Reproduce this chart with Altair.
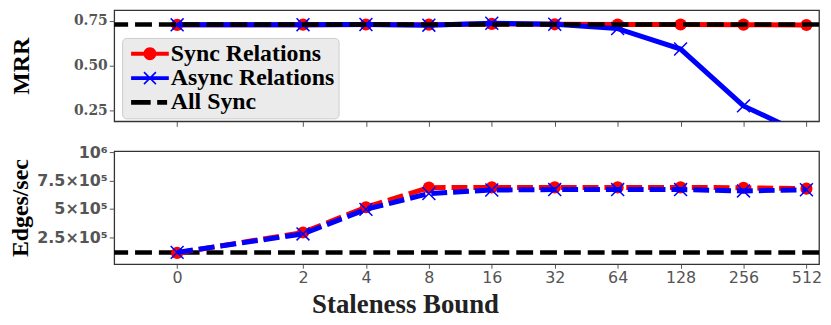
import math
import pandas as pd
import altair as alt

# ---------------- data ----------------
staleness = [0, 2, 4, 8, 16, 32, 64, 128, 256, 512]
tick_labels = ["0", "2", "4", "8", "16", "32", "64", "128", "256", "512"]

mrr_sync = [0.728, 0.729, 0.730, 0.729, 0.733, 0.731, 0.730, 0.730, 0.729, 0.727]
mrr_async = [0.728, 0.729, 0.730, 0.726, 0.737, 0.731, 0.707, 0.593, 0.276, 0.111]
mrr_all_sync = [0.730]

edges_sync = [1.10e5, 2.91e5, 5.14e5, 6.87e5, 6.89e5, 6.89e5, 6.89e5, 6.89e5, 6.86e5, 6.78e5]
edges_async = [1.15e5, 2.78e5, 4.95e5, 6.35e5, 6.66e5, 6.70e5, 6.70e5, 6.70e5, 6.58e5, 6.68e5]
edges_all_sync = [1.14e5]

series_names = ["Sync Relations", "Async Relations", "All Sync"]
series_colors = ["#ff0000", "#0000ff", "#000000"]

# x position: log2 of staleness, 0 placed one step before 2^0
pos = [-1.0 if s == 0 else math.log2(s) for s in staleness]

df = pd.DataFrame({
    "staleness": staleness * 2,
    "pos": pos * 2,
    "series": [series_names[0]] * len(staleness) + [series_names[1]] * len(staleness),
    "mrr": mrr_sync + mrr_async,
    "edges": edges_sync + edges_async,
})
df_all_mrr = pd.DataFrame({"mrr": mrr_all_sync})
df_all_edges = pd.DataFrame({"edges": edges_all_sync})
legend_df = pd.DataFrame({"entry": series_names})

# ---------------- styling ----------------
W = 710
H_TOP = 112
H_BOT = 114
GRAY = "#555555"
X_PATH = "M-1,-1L1,1M1,-1L-1,1"

# legend symbols (units: 8px per unit with symbolSize 256)
leg_sync = ("M-2.375,-0.25H2.375V0.25H-2.375Z "
            "M0.8125,0A0.8125,0.8125 0 1,1 -0.8125,0A0.8125,0.8125 0 1,1 0.8125,0Z")
leg_async = ("M-2.375,-0.25H2.375V0.25H-2.375Z "
             "M-0.68,-0.82L0.82,0.68L0.68,0.82L-0.82,-0.68Z "
             "M0.68,-0.82L0.82,-0.68L-0.68,0.82L-0.82,0.68Z")
leg_all = "M-2.375,-0.3H0.09V0.3H-2.375Z M0.91,-0.3H2.16V0.3H0.91Z"
legend_paths = [leg_sync, leg_async, leg_all]

x_scale = alt.Scale(domain=[-2, 9.2], nice=False, zero=False)
label_expr = ("[" + ",".join("'%s'" % t for t in tick_labels) + "][indexof(["
              + ",".join(str(p) for p in pos) + "], datum.value)]")

x_top = alt.X("pos:Q", scale=x_scale,
              axis=alt.Axis(values=pos, labels=False, ticks=True, domain=False,
                            title=None, tickSize=5, tickColor=GRAY, labelFlush=False))
x_bot = alt.X("pos:Q", scale=x_scale,
              axis=alt.Axis(values=pos, labelExpr=label_expr, ticks=True, domain=False,
                            tickSize=4, tickColor=GRAY, labelFlush=False,
                            labelFont="DejaVu Sans", labelFontSize=16, labelColor=GRAY,
                            labelPadding=1,
                            title="Staleness Bound", titleFont="Liberation Serif",
                            titleFontSize=27, titleFontWeight="bold", titleColor="#222222",
                            titleX=293, titleY=49, titleBaseline="alphabetic"))

y_top = alt.Y("mrr:Q", scale=alt.Scale(domain=[0.19, 0.81], nice=False, zero=False),
              axis=alt.Axis(values=[0.25, 0.5, 0.75], format=".2f", domain=False,
                            labelFont="DejaVu Serif", labelFontWeight="bold",
                            labelFontSize=14, labelColor=GRAY, labelPadding=2,
                            tickSize=5, tickColor=GRAY, labelOverlap=False,
                            title="MRR", titleFont="Liberation Serif", titleFontSize=24,
                            titleFontWeight="bold", titleColor="black", titlePadding=40))

y_bot = alt.Y("edges:Q", scale=alt.Scale(domain=[1e4, 1.01e6], nice=False, zero=False),
              axis=alt.Axis(values=[2.5e5, 5e5, 7.5e5, 1e6], domain=False,
                            labelExpr="datum.value >= 1e6 ? '10⁶' : (datum.value == 5e5 ? '5' : (datum.value == 2.5e5 ? '2.5' : '7.5')) + '×10⁵'",
                            labelFont="DejaVu Sans", labelFontWeight="bold",
                            labelFontSize=16, labelColor=GRAY, labelPadding=2,
                            labelOverlap=False, labelBound=False,
                            tickSize=5, tickColor=GRAY,
                            title="Edges/sec", titleFont="Liberation Serif", titleFontSize=24,
                            titleFontWeight="bold", titleColor="black", titlePadding=4))


def series_layers(x_enc, y_enc, dashed):
    base = alt.Chart(df)
    dash = {"strokeDash": [16, 6]} if dashed else {}
    red = base.transform_filter(alt.datum.series == series_names[0])
    blue = base.transform_filter(alt.datum.series == series_names[1])
    return [
        red.mark_line(color=series_colors[0], strokeWidth=5, clip=True, **dash).encode(x=x_enc, y=y_enc),
        red.mark_point(shape="circle", filled=True, color=series_colors[0], size=150,
                       opacity=1, clip=True).encode(x=x_enc, y=y_enc),
        blue.mark_line(color=series_colors[1], strokeWidth=5, clip=True, **dash).encode(x=x_enc, y=y_enc),
        blue.mark_point(shape=X_PATH, filled=False, color=series_colors[1], size=169,
                        strokeWidth=1.5, opacity=1, clip=True).encode(x=x_enc, y=y_enc),
    ]


leg = alt.Legend(title=None, orient="none", legendX=8, legendY=28, padding=4,
                 fillColor="#ebebeb", strokeColor="#cccccc", cornerRadius=4,
                 labelFont="Liberation Serif", labelFontWeight="bold", labelFontSize=24,
                 labelColor="black", labelLimit=400, symbolSize=256, symbolOffset=12,
                 labelOffset=9, rowPadding=0.5, symbolOpacity=1, symbolStrokeWidth=0)

legend_layer = alt.Chart(legend_df).mark_point(filled=True, opacity=0).encode(
    color=alt.Color("entry:N", scale=alt.Scale(domain=series_names, range=series_colors), legend=leg),
    shape=alt.Shape("entry:N", scale=alt.Scale(domain=series_names, range=legend_paths), legend=leg),
)

rule_top = alt.Chart(df_all_mrr).mark_rule(color="black", strokeWidth=4.5, strokeDash=[17, 7]).encode(y=y_top)
rule_bot = alt.Chart(df_all_edges).mark_rule(color="black", strokeWidth=4.5, strokeDash=[17, 7]).encode(y=y_bot)

top_layers = series_layers(x_top, y_top, dashed=False)
top = alt.layer(*top_layers, rule_top, legend_layer).properties(width=W, height=H_TOP)

bot_layers = series_layers(x_bot, y_bot, dashed=True)
bottom = alt.layer(rule_bot, *bot_layers).properties(width=W, height=H_BOT)

chart = alt.vconcat(top, bottom, spacing=15).properties(padding=0).configure_view(
    stroke="#333333", strokeWidth=1.3
).configure_axis(grid=False)

chart.save("out.html", embed_options={"renderer": "svg", "actions": False})
